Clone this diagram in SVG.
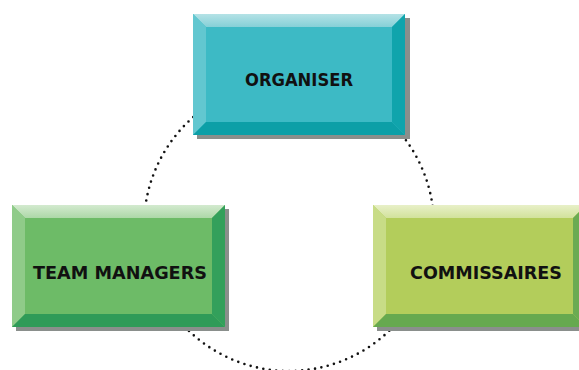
<svg xmlns="http://www.w3.org/2000/svg" width="579" height="370" viewBox="0 0 579 370">
<defs>
<linearGradient id="tTop" x1="0" y1="0" x2="0" y2="1"><stop offset="0" stop-color="#b4e2e6"/><stop offset="1" stop-color="#86d0d7"/></linearGradient>
<linearGradient id="gTop" x1="0" y1="0" x2="0" y2="1"><stop offset="0" stop-color="#d3eacf"/><stop offset="1" stop-color="#add8a8"/></linearGradient>
<linearGradient id="lTop" x1="0" y1="0" x2="0" y2="1"><stop offset="0" stop-color="#e8f0c8"/><stop offset="1" stop-color="#d2e29c"/></linearGradient>
</defs>
<style>
.shadow{fill:#8a8f8c}
.lbl{font-family:"DejaVu Sans","Liberation Sans",sans-serif;font-weight:bold;font-size:18.5px;fill:#111;text-anchor:middle}
.ring{fill:none;stroke:#111;stroke-width:2.6;stroke-linecap:round;stroke-dasharray:0 6.5}
</style>
<rect width="579" height="370" fill="#ffffff"/>
<g id="connectors">
<circle class="ring" cx="289" cy="226" r="145"/>
</g>
<g id="organiser">
<rect class="shadow" x="197" y="18" width="213" height="121"/>
<rect x="193" y="14" width="212" height="121" fill="#3dbac5"/>
<polygon points="193,14 405,14 392,27 206,27" fill="url(#tTop)"/>
<polygon points="193,14 206,27 206,122 193,135" fill="#62c7d0"/>
<polygon points="193,135 206,122 392,122 405,135" fill="#0c9fa7"/>
<polygon points="405,14 405,135 392,122 392,27" fill="#10a4ac"/>
<text class="lbl" x="299" y="86" textLength="108" lengthAdjust="spacingAndGlyphs">ORGANISER</text>
</g>
<g id="team-managers">
<rect class="shadow" x="16" y="209" width="213" height="122"/>
<rect x="12" y="205" width="213" height="122" fill="#6dbb67"/>
<polygon points="12,205 225,205 212,218 25,218" fill="url(#gTop)"/>
<polygon points="12,205 25,218 25,314 12,327" fill="#8fcb89"/>
<polygon points="12,327 25,314 212,314 225,327" fill="#2f9b58"/>
<polygon points="225,205 225,327 212,314 212,218" fill="#33a05b"/>
<text class="lbl" x="120" y="279" textLength="174" lengthAdjust="spacingAndGlyphs">TEAM MANAGERS</text>
</g>
<g id="commissaires">
<rect class="shadow" x="377" y="209" width="213" height="122"/>
<rect x="373" y="205" width="213" height="122" fill="#b3cd5b"/>
<polygon points="373,205 586,205 573,218 386,218" fill="url(#lTop)"/>
<polygon points="373,205 386,218 386,314 373,327" fill="#c8dc86"/>
<polygon points="373,327 386,314 573,314 586,327" fill="#66a94f"/>
<polygon points="586,205 586,327 573,314 573,218" fill="#6bab52"/>
<text class="lbl" x="486" y="279" textLength="152" lengthAdjust="spacingAndGlyphs">COMMISSAIRES</text>
</g>
</svg>
